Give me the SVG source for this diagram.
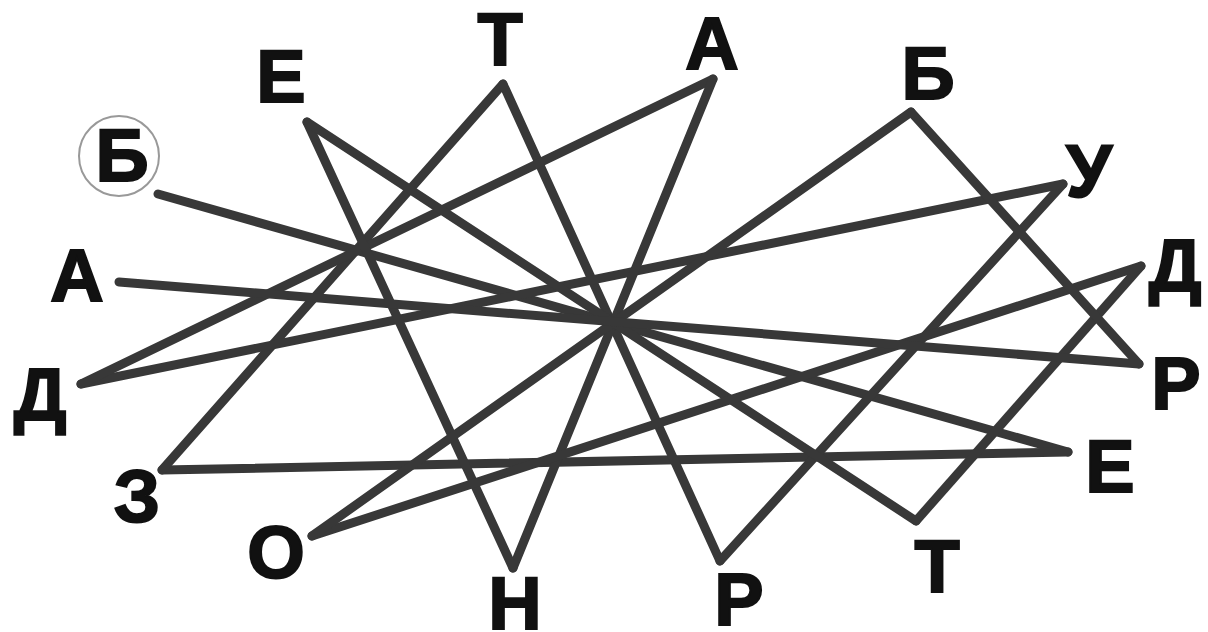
<svg xmlns="http://www.w3.org/2000/svg" width="1208" height="632" viewBox="0 0 1208 632">
<style>
.l{font-family:"Liberation Sans",Arial,sans-serif;font-weight:bold;font-size:74px;fill:#111;stroke:#111;stroke-width:2;text-anchor:middle}
.c line{stroke:#383838;stroke-width:9;stroke-linecap:round}
</style>
<rect width="1208" height="632" fill="#fff"/>
<g id="connectors" class="c">
<line x1="158" y1="194" x2="1068" y2="452"/>
<line x1="1068" y1="452" x2="162" y2="470"/>
<line x1="162" y1="470" x2="503" y2="84"/>
<line x1="503" y1="84" x2="720" y2="561"/>
<line x1="720" y1="561" x2="1063" y2="184"/>
<line x1="1063" y1="184" x2="81" y2="384"/>
<line x1="81" y1="384" x2="713" y2="79"/>
<line x1="713" y1="79" x2="513" y2="568"/>
<line x1="513" y1="568" x2="307" y2="122"/>
<line x1="307" y1="122" x2="916" y2="521"/>
<line x1="916" y1="521" x2="1141" y2="266"/>
<line x1="1141" y1="266" x2="312" y2="536"/>
<line x1="312" y1="536" x2="911" y2="112"/>
<line x1="911" y1="112" x2="1139" y2="364"/>
<line x1="1139" y1="364" x2="119" y2="282"/>
</g>
<g id="n-b1"><circle cx="119" cy="156" r="40" fill="none" stroke="#999" stroke-width="2"/><text class="l" x="122" y="181">Б</text></g>
<g id="n-a1"><text class="l" x="77" y="301">А</text></g>
<g id="n-d1"><text class="l" x="40" y="420">Д</text></g>
<g id="n-z"><text class="l" x="137" y="522">З</text></g>
<g id="n-o"><text class="l" x="276" y="578">О</text></g>
<g id="n-n"><text class="l" x="515" y="629">Н</text></g>
<g id="n-r1"><text class="l" x="739" y="625">Р</text></g>
<g id="n-t1"><text class="l" x="937" y="592">Т</text></g>
<g id="n-e1"><text class="l" x="1110" y="492">Е</text></g>
<g id="n-r2"><text class="l" x="1176" y="409">Р</text></g>
<g id="n-d2"><text class="l" x="1175" y="291">Д</text></g>
<g id="n-u"><text class="l" x="1089" y="197">У</text></g>
<g id="n-b2"><text class="l" x="928" y="99">Б</text></g>
<g id="n-a2"><text class="l" x="712" y="69">А</text></g>
<g id="n-t2"><text class="l" x="500" y="65">Т</text></g>
<g id="n-e2"><text class="l" x="281" y="102">Е</text></g>
</svg>
